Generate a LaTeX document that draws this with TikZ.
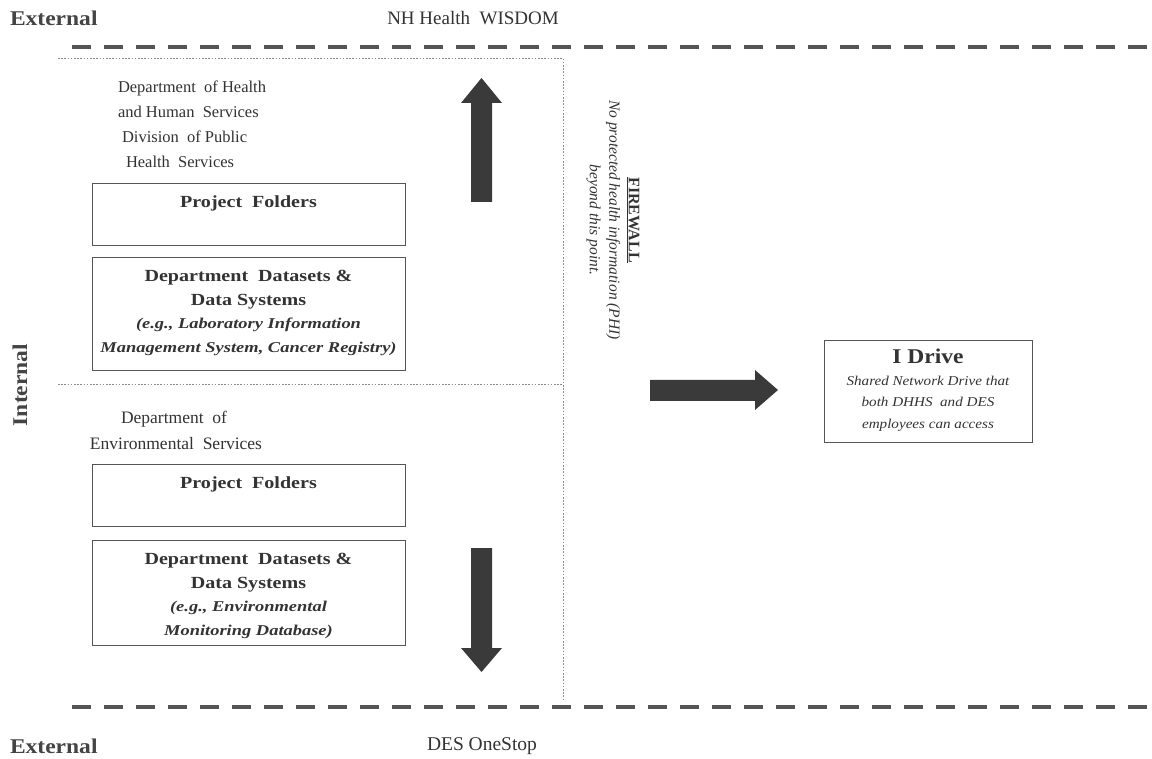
\documentclass[tikz,border=0pt]{standalone}
\usepackage{fontspec}
\setmainfont{Liberation Serif}
\newfontfamily\wfont[FakeStretch=1.18]{Liberation Serif}
\newfontfamily\wifont[FakeStretch=1.23]{Liberation Serif}
\newfontfamily\hfont[FakeStretch=1.12]{Liberation Serif}
\newfontfamily\idfont[FakeStretch=1.12]{Liberation Serif}
\begin{document}
\begin{tikzpicture}[x=1pt,y=-1pt,
  every node/.style={inner sep=0pt, outer sep=0pt},
  txt/.style={text=txtc, align=center, font=\fontsize{16.5}{25}\selectfont},
  head/.style={text=headc, font=\hfont\bfseries\fontsize{21}{24}\selectfont},
  boxframe/.style={draw=boxc, line width=0.9pt, rectangle, minimum width=313pt},
  boxtxt/.style={text=txtc, align=center},
  bigdash/.style={draw=dashc, line width=4.5pt, dash pattern=on 19pt off 13pt},
  fine/.style={draw=dotc, line width=0.8pt, dash pattern=on 1.6pt off 1.6pt},
  blockarrow/.style={fill=arrc, draw=none}]
\definecolor{txtc}{HTML}{333333}
\definecolor{headc}{HTML}{444444}
\definecolor{boxc}{HTML}{555555}
\definecolor{dashc}{HTML}{555555}
\definecolor{dotc}{HTML}{8A8A8A}
\definecolor{arrc}{HTML}{3A3A3A}
\useasboundingbox[fill=white] (0,0) rectangle (1152,759);

% headings
\node[head, anchor=west] (exttop) at (10,18) {External};
\node[txt, font=\fontsize{19}{22}\selectfont] (wisdom) at (473,18) {NH Health\ \ WISDOM};
\node[head, anchor=west] (extbot) at (10,746) {External};
\node[txt, font=\fontsize{19.5}{22}\selectfont] (onestop) at (482,746) {DES OneStop};
\node[head, rotate=90] (internal) at (20,385) {Internal};

% boundary lines
\coordinate (tl) at (72,47); \coordinate (tr) at (1152,47);
\coordinate (bl) at (72,707); \coordinate (br) at (1152,707);
\draw[bigdash] (tl) -- (tr);
\draw[bigdash] (bl) -- (br);

\coordinate (d1) at (58,58); \coordinate (d2) at (563,58);
\coordinate (d3) at (563,700);
\coordinate (m1) at (58,384); \coordinate (m2) at (563,384);
\draw[fine] (d1) -- (d2) -- (d3);
\draw[fine] (m1) -- (m2);

% DHHS
\node[txt, align=left, anchor=north west] (dhhs) at (118,81) {Department\ \ of Health\\\hspace*{0pt}and Human\ \ Services\\\hspace*{4pt}Division\ \ of Public\\\hspace*{8pt}Health\ \ Services};

\node[boxframe, minimum height=62pt] (pf1) at (248.5,214) {};
\node[boxtxt, font=\wfont\bfseries\fontsize{17}{20}\selectfont] (pf1t) at (248.5,203) {Project\ \ Folders};

\node[boxframe, minimum height=113pt] (ds1) at (248.5,313.5) {};
\node[boxtxt, font=\wfont\bfseries\fontsize{17}{24}\selectfont] (ds1t) at (248.5,313) {Department\ \ Datasets \&\\ Data Systems\\[-1pt]
 \wifont\bfseries\itshape\fontsize{15}{23}\selectfont (e.g., Laboratory Information\\ \wifont\bfseries\itshape\fontsize{15}{23}\selectfont Management System, Cancer Registry)};

% DES
\node[txt, font=\fontsize{17.5}{26}\selectfont] (des) at (176,430) {\hspace*{-4pt}Department\ \ of\\Environmental\ \ Services};

\node[boxframe, minimum height=62pt] (pf2) at (248.5,495) {};
\node[boxtxt, font=\wfont\bfseries\fontsize{17}{20}\selectfont] (pf2t) at (248.5,484) {Project\ \ Folders};

\node[boxframe, minimum height=105pt] (ds2) at (248.5,592.5) {};
\node[boxtxt, font=\wfont\bfseries\fontsize{17}{24}\selectfont] (ds2t) at (248.5,596) {Department\ \ Datasets \&\\ Data Systems\\[-1pt]
 \wifont\bfseries\itshape\fontsize{15}{23}\selectfont (e.g., Environmental\\ \wifont\bfseries\itshape\fontsize{15}{23}\selectfont Monitoring Database)};

% firewall
\node[boxtxt, rotate=-90, font=\itshape\fontsize{15.5}{19.5}\selectfont] (fw) at (613,220) {\upshape\bfseries\fontsize{16}{19.5}\selectfont\underline{FIREWALL}\\
 No protected health information (PHI)\\
 beyond this point.};

% I Drive
\node[boxframe, minimum width=208pt, minimum height=102pt] (idrive) at (928,391) {};
\node[boxtxt, font=\idfont\itshape\fontsize{13.5}{21.5}\selectfont] (idrivet) at (928,390) {\upshape\bfseries\fontsize{21}{22}\selectfont I Drive\\
 Shared Network Drive that\\
 both DHHS\ \ and DES\\
 employees can access};

% block arrows
\fill[blockarrow] (471,202) -- (492,202) -- (492,103) -- (502,103) -- (481.5,78) -- (461,103) -- (471,103) -- cycle;
\fill[blockarrow] (471,548) -- (492,548) -- (492,648) -- (502,648) -- (481.5,672) -- (461,648) -- (471,648) -- cycle;
\fill[blockarrow] (650,380) -- (755,380) -- (755,370) -- (778,390) -- (755,410) -- (755,401) -- (650,401) -- cycle;
\end{tikzpicture}
\end{document}
